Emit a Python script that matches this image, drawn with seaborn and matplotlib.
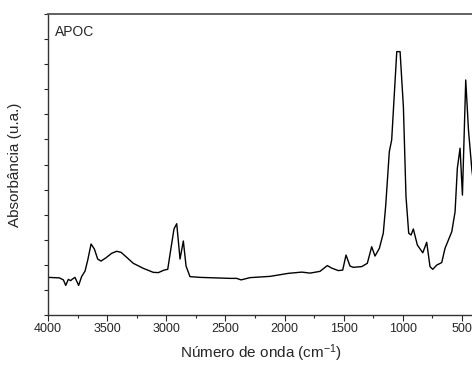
import numpy as np
import pandas as pd
import matplotlib
matplotlib.use("Agg")
import matplotlib.pyplot as plt
import seaborn as sns

wavenumber = [4000, 3904, 3870, 3850, 3828, 3808, 3797, 3772, 3741, 3716, 3687, 3664,
              3636, 3608, 3580, 3552, 3510, 3462, 3419, 3383, 3335, 3279, 3194, 3110,
              3067, 3019, 2988, 2963, 2935, 2912, 2884, 2856, 2833, 2800, 2715, 2461,
              2405, 2368, 2292, 2123, 1969, 1855, 1785, 1701, 1639, 1602, 1546, 1509,
              1481, 1447, 1419, 1348, 1301, 1264, 1236, 1199, 1166, 1145, 1115, 1095,
              1052, 1024, 996, 974, 951, 931, 912, 878, 832, 799, 771, 748, 714, 672,
              644, 587, 559, 540, 517, 497, 469, 446, 417, 400]
absorbance = [0.150, 0.148, 0.140, 0.118, 0.142, 0.137, 0.142, 0.150, 0.118, 0.153, 0.175, 0.219,
              0.283, 0.263, 0.223, 0.215, 0.228, 0.246, 0.254, 0.250, 0.230, 0.206, 0.186, 0.170,
              0.169, 0.179, 0.182, 0.259, 0.343, 0.364, 0.223, 0.295, 0.195, 0.153, 0.150, 0.146,
              0.146, 0.140, 0.149, 0.154, 0.166, 0.171, 0.167, 0.174, 0.197, 0.187, 0.177, 0.179,
              0.239, 0.195, 0.190, 0.193, 0.206, 0.272, 0.235, 0.266, 0.326, 0.439, 0.651, 0.698,
              1.050, 1.050, 0.830, 0.472, 0.326, 0.319, 0.343, 0.279, 0.248, 0.290, 0.193, 0.182,
              0.199, 0.209, 0.266, 0.332, 0.412, 0.585, 0.665, 0.478, 0.937, 0.738, 0.578, 0.518]
x_ticks = [4000, 3500, 3000, 2500, 2000, 1500, 1000, 500]
sample_label = "APOC"

sns.set_style("ticks")
plt.rcParams['font.family'] = ['Liberation Sans', 'DejaVu Sans']
plt.rcParams['mathtext.fontset'] = 'custom'
plt.rcParams['mathtext.rm'] = 'Liberation Sans'
plt.rcParams['mathtext.it'] = 'Liberation Sans'

df = pd.DataFrame({"wn": wavenumber, "abs": absorbance})

fig = plt.figure(figsize=(4.72, 3.67), dpi=100)
ax = fig.add_axes([48 / 472, 52 / 367, (473.9 - 48) / 472, 301 / 367])
sns.lineplot(data=df, x="wn", y="abs", ax=ax, color="black", linewidth=1.0, sort=False)

ax.set_xlim(4000, 400)
ax.set_ylim(0, 1.2)
ax.set_xticks(x_ticks)
ax.set_xticklabels([str(t) for t in x_ticks], fontsize=9)
ax.set_xticks(np.arange(3750, 400, -500), minor=True)
ax.set_yticks(np.arange(0, 1.21, 0.1))
ax.set_yticklabels([])
ax.tick_params(axis="x", which="major", direction="out", length=4, width=0.8, pad=2)
ax.tick_params(axis="x", which="minor", direction="out", length=2.5, width=0.8)
ax.tick_params(axis="y", which="major", direction="out", length=3, width=0.8)
for s in ax.spines.values():
    s.set_color("#333333")
    s.set_linewidth(1.0)
ax.spines["top"].set_linewidth(1.3)
ax.spines["top"].set_color("#555555")

ax.set_xlabel("Número de onda (cm$^{-1}$)", fontsize=11, labelpad=5)
ax.set_ylabel("Absorbância (u.a.)", fontsize=11, labelpad=12)
fig.text(55 / 472, 1 - 32 / 367, sample_label, fontsize=10, va="center", ha="left")

fig.savefig("out.png", dpi=100)
